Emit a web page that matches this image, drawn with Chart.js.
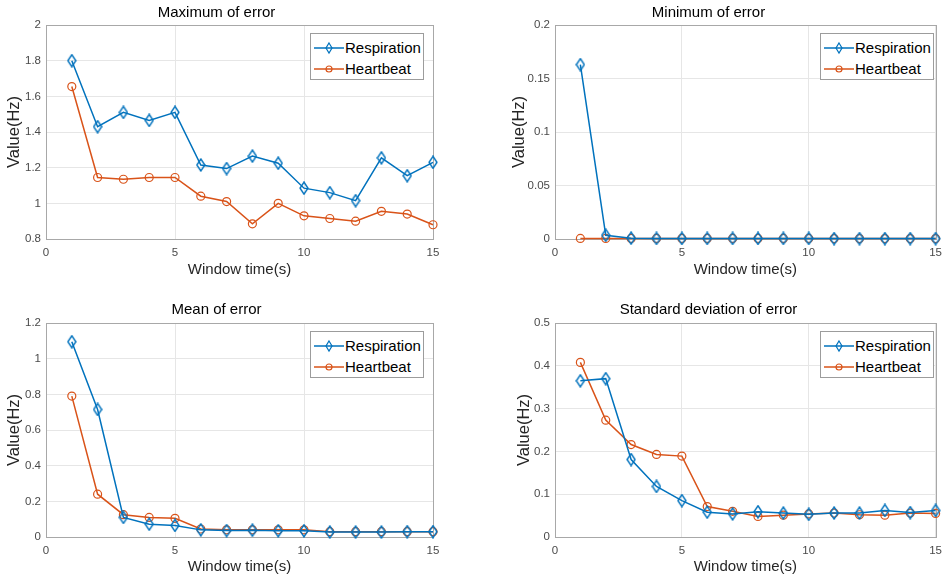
<!DOCTYPE html>
<html>
<head>
<meta charset="utf-8">
<script src="https://cdn.jsdelivr.net/npm/chart.js@4.4.1/dist/chart.umd.min.js"></script>
<style>
  body { margin: 0; background: #fff; }
  #wrap { position: relative; width: 949px; height: 579px; overflow: hidden; font-family: 'Liberation Sans', Arial, sans-serif; }
  .pane { position: absolute; }
  .legend { position: absolute; width: 112px; height: 45px; border: 1px solid #9c9c9c; background: #fff; }
  .legend .row { position: absolute; left: 0; height: 20px; width: 112px; }
  .legend svg { position: absolute; left: 2px; top: 0; }
  .legend span { position: absolute; left: 34px; top: 1px; font-size: 15px; line-height: 18px; color: #000; white-space: nowrap; }
</style>
</head>
<body>
<div id="wrap"></div>
<script>
// data
var windowTime = [1, 2, 3, 4, 5, 6, 7, 8, 9, 10, 11, 12, 13, 14, 15];

var maxResp  = [1.80, 1.43, 1.51, 1.465, 1.51, 1.215, 1.195, 1.265, 1.225, 1.085, 1.06, 1.015, 1.255, 1.155, 1.23];
var maxHeart = [1.655, 1.145, 1.135, 1.145, 1.145, 1.04, 1.01, 0.885, 1.0, 0.93, 0.915, 0.90, 0.955, 0.94, 0.88];

var minResp  = [0.163, 0.0035, 0.0008, 0.0005, 0.0005, 0.0005, 0.0005, 0.0005, 0.0005, 0.0005, 0.0004, 0.0004, 0.0004, 0.0004, 0.0004];
var minHeart = [0.0005, 0.0005, 0.0005, 0.0005, 0.0005, 0.0005, 0.0005, 0.0005, 0.0005, 0.0005, 0.0004, 0.0004, 0.0004, 0.0004, 0.0004];

var meanResp  = [1.095, 0.715, 0.11, 0.072, 0.065, 0.04, 0.036, 0.038, 0.035, 0.035, 0.028, 0.028, 0.028, 0.03, 0.03];
var meanHeart = [0.79, 0.24, 0.125, 0.11, 0.105, 0.045, 0.04, 0.04, 0.04, 0.04, 0.03, 0.03, 0.03, 0.03, 0.03];

var stdResp  = [0.365, 0.370, 0.181, 0.118, 0.085, 0.058, 0.054, 0.059, 0.056, 0.053, 0.056, 0.056, 0.062, 0.057, 0.062];
var stdHeart = [0.408, 0.273, 0.216, 0.193, 0.189, 0.071, 0.060, 0.048, 0.051, 0.054, 0.056, 0.052, 0.051, 0.056, 0.055];

var xTicks = [0, 5, 10, 15];
var maxTicks  = [0.8, 1, 1.2, 1.4, 1.6, 1.8, 2];
var minTicks  = [0, 0.05, 0.1, 0.15, 0.2];
var meanTicks = [0, 0.2, 0.4, 0.6, 0.8, 1, 1.2];
var stdTicks  = [0, 0.1, 0.2, 0.3, 0.4, 0.5];

var seriesNames = ['Respiration', 'Heartbeat'];
var blue = '#0072BD', orange = '#D95319';
var FONT = "'Liberation Sans', Arial, sans-serif";

// tall diamond marker like matlab's 'd'
function diamond(w, h, lw) {
    var c = document.createElement('canvas');
    c.width = w + 2; c.height = h + 2;
    var g = c.getContext('2d');
    g.strokeStyle = blue; g.lineWidth = lw;
    g.beginPath();
    g.moveTo(c.width / 2, 1);
    g.lineTo(c.width - 1, c.height / 2);
    g.lineTo(c.width / 2, c.height - 1);
    g.lineTo(1, c.height / 2);
    g.closePath();
    g.stroke();
    return c;
}
var diamondMark = diamond(8, 12, 1.4);

function pts(ys) {
    return windowTime.map(function(x, i){ return {x: x, y: ys[i]}; });
}

var boxPlugin = {
    id: 'box',
    beforeDatasetsDraw: function(chart) {
        var a = chart.chartArea, ctx = chart.ctx;
        ctx.save();
        ctx.strokeStyle = '#a8a8a8';
        ctx.lineWidth = 1;
        ctx.strokeRect(Math.round(a.left) + 0.5, Math.round(a.top) + 0.5, Math.round(a.right - a.left), Math.round(a.bottom - a.top));
        ctx.restore();
    }
};

var panels = [
    {title: 'Maximum of error', resp: maxResp, heart: maxHeart, yTicks: maxTicks,
     left: 0, top: 0, w: 475, h: 290, plotL: 46, plotR: 433, plotT: 25, plotB: 239, titleY: 12.5, yTitleX: 15, xTitleY: 270, legX: 310, legY: 33},
    {title: 'Minimum of error', resp: minResp, heart: minHeart, yTicks: minTicks,
     left: 475, top: 0, w: 474, h: 290, plotL: 80, plotR: 467, plotT: 25, plotB: 239, titleY: 12.5, yTitleX: 45, xTitleY: 270, legX: 345, legY: 33},
    {title: 'Mean of error', resp: meanResp, heart: meanHeart, yTicks: meanTicks,
     left: 0, top: 290, w: 475, h: 289, plotL: 46, plotR: 433, plotT: 33, plotB: 247, titleY: 20, yTitleX: 15, xTitleY: 277, legX: 310, legY: 41},
    {title: 'Standard deviation of error', resp: stdResp, heart: stdHeart, yTicks: stdTicks,
     left: 475, top: 290, w: 474, h: 289, plotL: 80, plotR: 467, plotT: 33, plotB: 247, titleY: 20, yTitleX: 50, xTitleY: 277, legX: 345, legY: 41}
];

var wrap = document.getElementById('wrap');

function legendSvg(i) {
    var col = i == 0 ? blue : orange;
    var mark = i == 0
        ? '<polygon points="16,5 19,10 16,15 13,10" fill="none" stroke="' + col + '" stroke-width="1.2"/>'
        : '<circle cx="16" cy="10" r="3" fill="none" stroke="' + col + '" stroke-width="1.2"/>';
    return '<svg width="32" height="20"><line x1="1" y1="10" x2="31" y2="10" stroke="' + col + '" stroke-width="1.5"/>' + mark + '</svg>';
}

panels.forEach(function(p, n){
    var div = document.createElement('div');
    div.className = 'pane';
    div.style.left = p.left + 'px'; div.style.top = p.top + 'px';
    div.style.width = p.w + 'px'; div.style.height = p.h + 'px';
    var cv = document.createElement('canvas');
    cv.width = p.w; cv.height = p.h;
    div.appendChild(cv);
    wrap.appendChild(div);

    var titleTop = p.titleY - 9;
    var yT = p.yTicks;

    new Chart(cv, {
        type: 'line',
        data: {
            datasets: [{
                label: seriesNames[0],
                data: pts(p.resp),
                borderColor: blue,
                backgroundColor: blue,
                borderWidth: 1.5,
                pointStyle: diamondMark,
                pointRadius: 5,
                clip: false
            }, {
                label: seriesNames[1],
                data: pts(p.heart),
                borderColor: orange,
                backgroundColor: 'rgba(0,0,0,0)',
                borderWidth: 1.5,
                pointStyle: 'circle',
                pointRadius: 4,
                pointBorderWidth: 1.2,
                clip: false
            }]
        },
        options: {
            responsive: false,
            animation: false,
            events: [],
            layout: { padding: { left: 0, right: p.w - p.plotR, top: 0, bottom: 0 } },
            plugins: {
                legend: { display: false },
                tooltip: { enabled: false },
                title: {
                    display: true,
                    text: p.title,
                    color: '#000',
                    font: { family: FONT, size: 15, weight: 'normal', lineHeight: 1.2 },
                    padding: { top: titleTop, bottom: p.plotT - titleTop - 18 }
                }
            },
            scales: {
                x: {
                    type: 'linear',
                    min: 0, max: 15,
                    afterBuildTicks: function(s){ s.ticks = xTicks.map(function(v){ return {value: v}; }); },
                    afterFit: function(s){ s.height = p.h - p.plotB; },
                    grid: { color: '#e6e6e6', drawTicks: false },
                    border: { display: false },
                    ticks: { color: '#4a4a4a', padding: 7, font: { family: FONT, size: 11.5 }, maxRotation: 0 },
                    title: { display: true, text: 'Window time(s)', color: '#262626',
                             font: { family: FONT, size: 15, lineHeight: 1.2 }, padding: { top: 0, bottom: p.h - p.xTitleY - 9 } }
                },
                y: {
                    min: yT[0], max: yT[yT.length - 1],
                    afterBuildTicks: function(s){ s.ticks = yT.map(function(v){ return {value: v}; }); },
                    afterFit: function(s){ s.width = p.plotL; },
                    grid: { color: '#e6e6e6', drawTicks: false },
                    border: { display: false },
                    ticks: { color: '#4a4a4a', padding: 5, font: { family: FONT, size: 11.5 },
                             callback: function(v){ return String(+v.toFixed(3)); } },
                    title: { display: true, text: 'Value(Hz)', color: '#262626',
                             font: { family: FONT, size: 16.5, lineHeight: 1.2 }, padding: { top: p.yTitleX - 10, bottom: 0 } }
                }
            }
        },
        plugins: [boxPlugin]
    });

    // legend box, drawn in html
    var leg = document.createElement('div');
    leg.className = 'legend';
    leg.style.left = (p.left + p.legX) + 'px';
    leg.style.top = (p.top + p.legY) + 'px';
    seriesNames.forEach(function(name, i){
        var row = document.createElement('div');
        row.className = 'row';
        row.style.top = (i == 0 ? 4 : 25) + 'px';
        row.innerHTML = legendSvg(i) + '<span>' + name + '</span>';
        leg.appendChild(row);
    });
    wrap.appendChild(leg);
});
</script>
</body>
</html>
